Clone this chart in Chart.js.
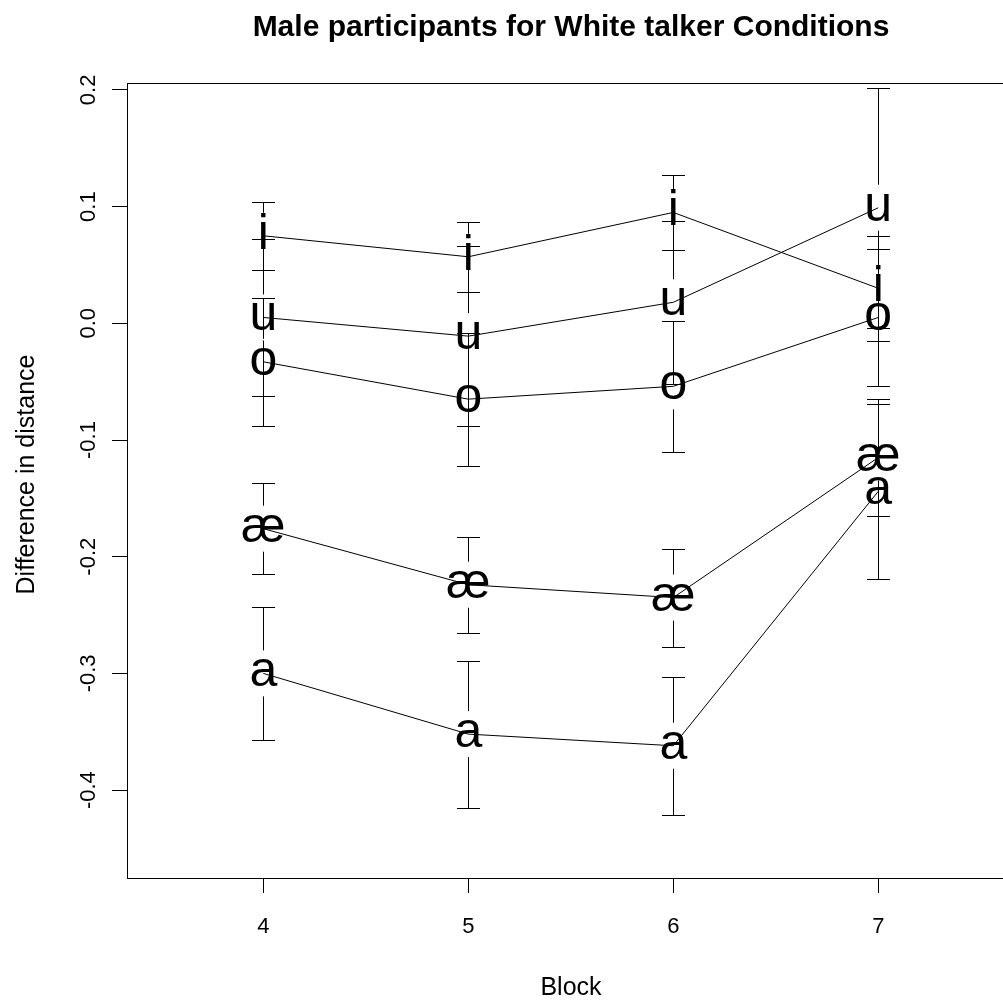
<!DOCTYPE html>
<html lang="en">
<head>
<meta charset="UTF-8">
<title>Male participants for White talker Conditions</title>
<script src="https://cdn.jsdelivr.net/npm/chart.js"></script>
<style>
    html, body { margin: 0; padding: 0; background: #fff; overflow: hidden; }
    /* plot region runs past the right edge of the window, like the original */
    #wrap { width: 1030px; height: 1001px; position: relative; }
</style>
</head>
<body>
<div id="wrap"><canvas id="vowelChart"></canvas></div>
<script>
// blocks on the x axis
const blocks = [4, 5, 6, 7];
const vowels = ['i', 'u', 'o', 'æ', 'a'];

// mean difference in distance per block
const meanI  = [0.075, 0.057, 0.095, 0.030];
const meanU  = [0.005, -0.011, 0.018, 0.099];
const meanO  = [-0.033, -0.065, -0.054, 0.005];
const meanAE = [-0.176, -0.224, -0.235, -0.115];
const meanA  = [-0.300, -0.352, -0.362, -0.144];

// standard errors (half length of each error bar)
const seI  = [0.029, 0.030, 0.032, 0.045];
const seU  = [0.067, 0.077, 0.070, 0.103];
const seO  = [0.055, 0.057, 0.056, 0.059];
const seAE = [0.039, 0.041, 0.042, 0.050];
const seA  = [0.057, 0.063, 0.059, 0.075];

const yTicks = [-0.4, -0.3, -0.2, -0.1, 0.0, 0.1, 0.2];
const yTickLabels = ['-0.4', '-0.3', '-0.2', '-0.1', '0.0', '0.1', '0.2'];

const means = [meanI, meanU, meanO, meanAE, meanA];
const errs = [seI, seU, seO, seAE, seA];

const FONT = "'Liberation Sans', Arial, Helvetica, sans-serif";
const GAP = 23;      // plotCI style gap around each label
const CAP = 11.5;    // half width of the bar ends

const datasets = vowels.map((v, i) => ({
    label: v,
    data: blocks.map((b, j) => ({ x: b, y: means[i][j] })),
    borderColor: '#000',
    borderWidth: 1,
    pointRadius: 0,
    tension: 0,
    fill: false
}));

const rPlot = {
    id: 'rPlot',
    afterDatasetsDraw(chart) {
        const { ctx, chartArea: a, scales: { x, y } } = chart;
        ctx.save();
        ctx.strokeStyle = '#000';
        ctx.lineWidth = 1;

        // frame
        ctx.strokeRect(a.left + 0.5, a.top + 0.5, a.right - a.left, a.bottom - a.top);

        // error bars
        chart.data.datasets.forEach((ds, i) => {
            chart.getDatasetMeta(i).data.forEach((pt, j) => {
                const m = means[i][j], s = errs[i][j];
                const up = Math.round(y.getPixelForValue(m + s)) + 0.5;
                const dn = Math.round(y.getPixelForValue(m - s)) + 0.5;
                const cx = Math.round(pt.x) + 0.5;
                const cy = pt.y;
                ctx.beginPath();
                if (up < cy - GAP) { ctx.moveTo(cx, up); ctx.lineTo(cx, cy - GAP); }
                if (dn > cy + GAP) { ctx.moveTo(cx, cy + GAP); ctx.lineTo(cx, dn); }
                ctx.moveTo(cx - CAP, up); ctx.lineTo(cx + CAP, up);
                ctx.moveTo(cx - CAP, dn); ctx.lineTo(cx + CAP, dn);
                ctx.stroke();
            });
        });

        // vowel labels at each point
        ctx.fillStyle = '#000';
        ctx.font = '50px ' + FONT;
        ctx.textAlign = 'center';
        ctx.textBaseline = 'alphabetic';
        chart.data.datasets.forEach((ds, i) => {
            chart.getDatasetMeta(i).data.forEach(pt => {
                ctx.fillText(ds.label, pt.x, pt.y + 13);
            });
        });

        // tick labels
        ctx.font = '22px ' + FONT;
        ctx.textBaseline = 'middle';
        blocks.forEach(b => {
            ctx.fillText(String(b), x.getPixelForValue(b), 927);
        });
        yTicks.forEach((v, k) => {
            ctx.save();
            ctx.translate(89, y.getPixelForValue(v));
            ctx.rotate(-Math.PI / 2);
            ctx.fillText(yTickLabels[k], 0, 0);
            ctx.restore();
        });

        // axis titles
        const midX = (a.left + a.right) / 2;
        const midY = (a.top + a.bottom) / 2;
        ctx.font = '25px ' + FONT;
        ctx.fillText('Block', midX, 988);
        ctx.save();
        ctx.translate(27, midY - 6);
        ctx.rotate(-Math.PI / 2);
        ctx.fillText('Difference in distance', 0, 0);
        ctx.restore();

        // main title
        ctx.font = 'bold 30px ' + FONT;
        ctx.fillText('Male participants for White talker Conditions', midX, 28);

        ctx.restore();
    }
};

new Chart(document.getElementById('vowelChart'), {
    type: 'line',
    data: { datasets },
    options: {
        responsive: true,
        maintainAspectRatio: false,
        animation: false,
        layout: { padding: { left: 0, right: 15, top: 83, bottom: 0 } },
        plugins: { legend: { display: false }, tooltip: { enabled: false }, title: { display: false } },
        scales: {
            x: {
                type: 'linear',
                min: 3.335,
                max: 7.667,
                afterBuildTicks: s => { s.ticks = blocks.map(v => ({ value: v })); },
                afterFit: s => { s.height = 123; },
                ticks: { display: false },
                border: { display: false },
                grid: { drawOnChartArea: false, drawTicks: true, tickLength: 15, color: '#000', lineWidth: 1 }
            },
            y: {
                type: 'linear',
                min: -0.4753,
                max: 0.2059,
                afterBuildTicks: s => { s.ticks = yTicks.map(v => ({ value: v })); },
                afterFit: s => { s.width = 127; },
                ticks: { display: false },
                border: { display: false },
                grid: { drawOnChartArea: false, drawTicks: true, tickLength: 15, color: '#000', lineWidth: 1 }
            }
        }
    },
    plugins: [rPlot]
});
</script>
</body>
</html>
